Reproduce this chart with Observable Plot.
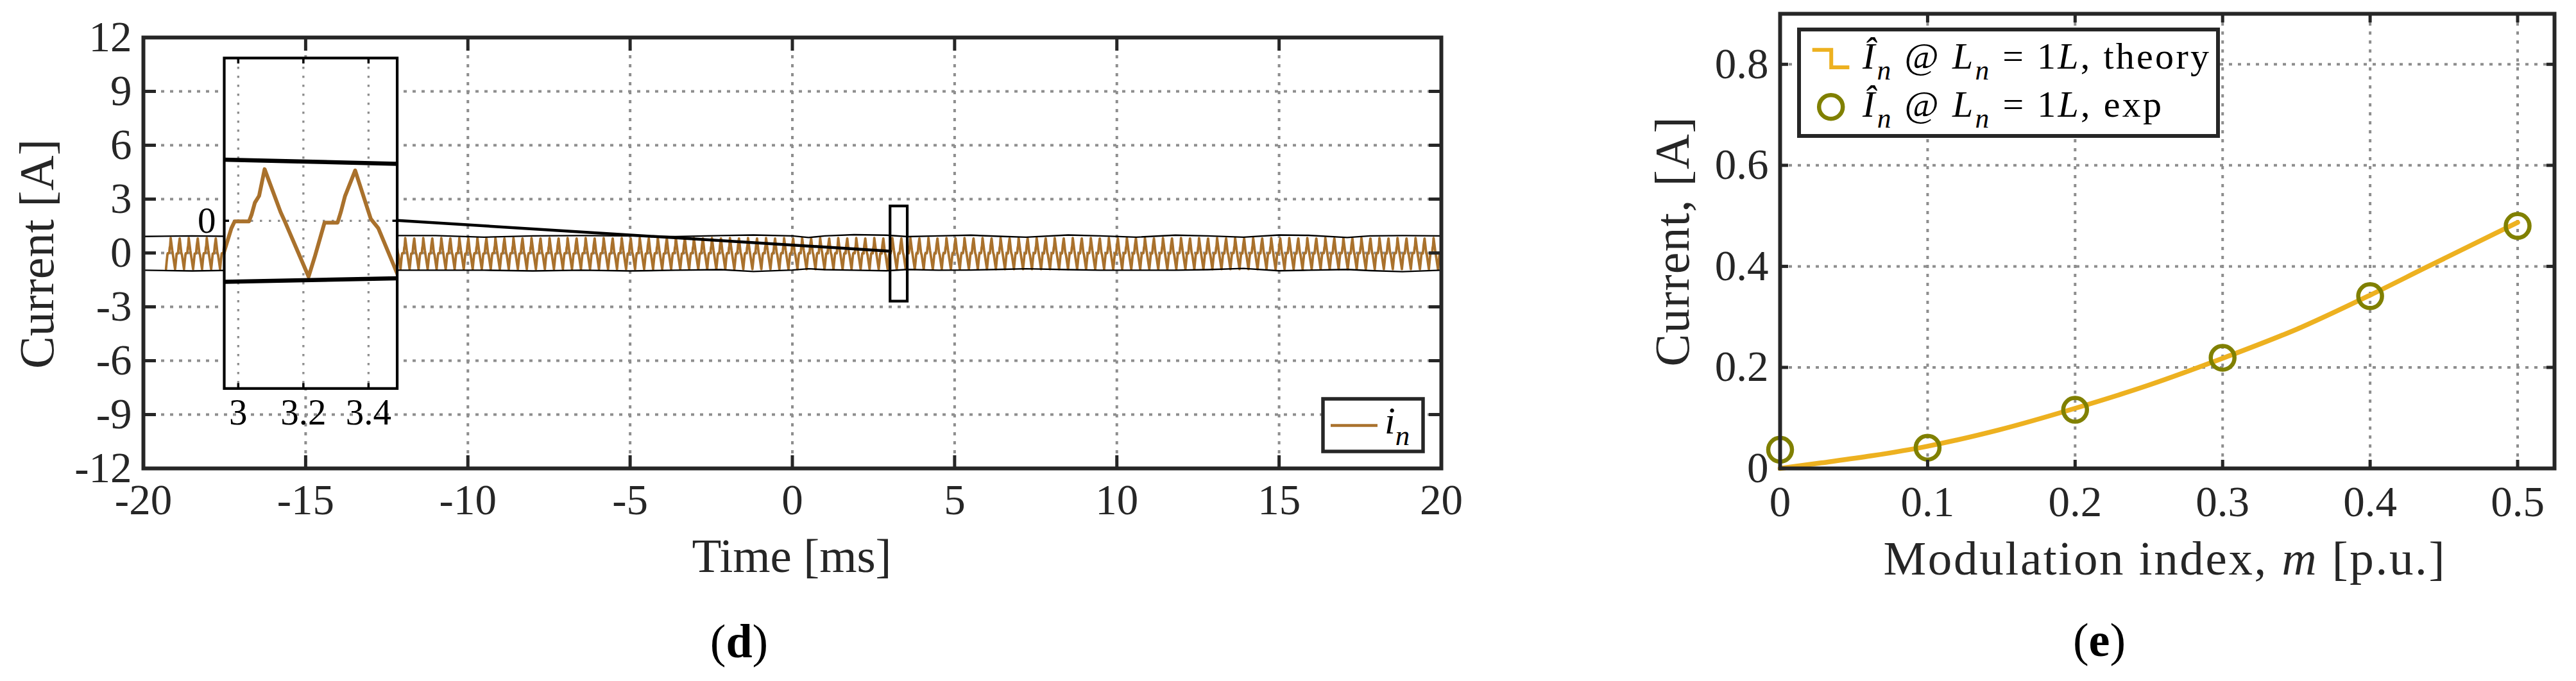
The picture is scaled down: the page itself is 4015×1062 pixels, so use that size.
<!DOCTYPE html>
<html><head><meta charset="utf-8">
<script src="https://cdn.jsdelivr.net/npm/d3@7"></script>
<script src="https://cdn.jsdelivr.net/npm/@observablehq/plot@0.6"></script>
<style>
body{margin:0;background:#fff;}
#wrap{position:relative;width:4015px;height:1062px;overflow:hidden;background:#fff;}
#wrap svg{position:absolute;overflow:visible;}
</style></head><body><div id="wrap"></div>
<script>
// ---------------- DATA ----------------
// one two-cycle stretch of the neutral current (t in ms, i in A)
const cycleT = [2.936, 2.956, 2.979, 2.989, 3.033, 3.041, 3.051, 3.064, 3.081, 3.130, 3.143,
                3.216, 3.236, 3.265, 3.305, 3.315, 3.328, 3.359, 3.407, 3.430];
const cycleV = [-0.90, -0.51, -0.12, -0.01, -0.01, 0.10, 0.29, 0.40, 0.83, 0.14, -0.01,
                -0.90, -0.56, -0.03, -0.03, 0.14, 0.40, 0.81, 0.03, -0.12];
const cyclePeriod = 0.556; // ms, the stretch repeats at this period (read from peak spacing)

// thin black envelope lines around the current
const envT = [-20, -18.5, -17, -15.5, -14, -12.5, -11, -9.5, -8, -6.5, -5, -3.6, -2.2, -1.2, 0, 0.5, 1.0, 1.9,
              2.9, 3.55, 4.5, 5.5, 6.5, 7.2, 8.5, 9.5, 10.6, 11.8, 12.8, 13.9, 15.0, 15.9, 17.1, 17.8, 18.8, 20];
const envUpper = [0.92, 0.95, 0.92, 0.95, 0.95, 0.97, 0.97, 0.88, 0.95, 0.97, 0.95, 0.91, 0.97, 1.0, 0.95, 0.86, 0.95, 1.02,
                  0.99, 0.91, 0.95, 0.99, 0.92, 0.88, 1.0, 0.95, 0.88, 0.99, 0.95, 0.88, 1.0, 0.98, 0.86, 0.95, 0.97, 0.95];
const envLower = [-0.96, -1.0, -0.96, -0.96, -0.96, -0.96, -0.96, -0.96, -1.0, -0.96, -1.0, -0.96, -0.93, -1.03, -0.95, -0.88, -0.93, -0.96,
                  -0.99, -0.92, -0.96, -0.95, -0.91, -0.88, -0.93, -0.96, -0.96, -0.96, -0.93, -0.86, -0.99, -0.96, -0.92, -0.98, -1.04, -0.96];

const timeTicks = [-20, -15, -10, -5, 0, 5, 10, 15, 20];
const currentTicks = [-12, -9, -6, -3, 0, 3, 6, 9, 12];
const timeDomain = [-20, 20];
const currentDomain = [-12, 12];

// zoom window (in the main axes) and the inset
const zoomRect = {t0: 3.02, t1: 3.55, v0: -2.7, v1: 2.6};
const insetDomainT = [2.957, 3.488];
const insetDomainV = [-2.7, 2.62];
const insetTicksT = [3, 3.2, 3.4];
const insetTicksV = [0];
const insetPlace = {t0: -17.51, t1: -12.18, v0: -7.53, v1: 10.875}; // where the inset sits, in main-axes units
const connectorEndV = 0.1;

// right panel
const theoryM = [0, 0.028, 0.062, 0.1, 0.148, 0.2, 0.25, 0.3, 0.353, 0.4, 0.438, 0.5];
const theoryI = [0.0, 0.011, 0.025, 0.044, 0.076, 0.119, 0.165, 0.218, 0.279, 0.343, 0.398, 0.487];
const expM = [0, 0.1, 0.2, 0.3, 0.4, 0.5];
const expI = [0.037, 0.041, 0.116, 0.219, 0.341, 0.480];
const mTicks = [0, 0.1, 0.2, 0.3, 0.4, 0.5];
const iTicks = [0, 0.2, 0.4, 0.6, 0.8];
const mDomain = [0, 0.525];
const iDomain = [0, 0.9];

// ---------------- STYLE ----------------
const FONT = "'Liberation Serif','Times New Roman',serif";
const AX = "#262626";
const GRID = "#8e8e8e";
const BROWN = "#A9712C";
const YEL = "#EDB120";
const OLIVE = "#808000";
const TICKFONT = 67;

// ---------------- build series ----------------
const signal = [];
for (let k = -40; k <= 32; k++) {
  const off = k * cyclePeriod;
  for (let i = 0; i < cycleT.length; i++) {
    const t = cycleT[i] + off;
    if (t >= -20.6 && t <= 20.6) signal.push({t, v: cycleV[i]});
  }
}
const env = envT.map((t, i) => ({t, up: envUpper[i], lo: envLower[i]}));
const theory = theoryM.map((m, i) => ({m, i: theoryI[i]}));
const exper = expM.map((m, i) => ({m, i: expI[i]}));

const insetZeroMain = insetPlace.v0 + (0 - insetDomainV[0]) / (insetDomainV[1] - insetDomainV[0]) * (insetPlace.v1 - insetPlace.v0);
const connector = [{t: insetPlace.t1, v: insetZeroMain}, {t: zoomRect.t0, v: connectorEndV}];

const wrap = document.getElementById("wrap");
const fmt = d => String(d);

function gridStyle(w, dash) { return {stroke: GRID, strokeOpacity: 1, strokeWidth: w, strokeDasharray: dash}; }
function inTicks(xt, yt, len, color, w) {
  const o = {tickSize: -len, tickFormat: () => "", stroke: color, strokeWidth: w, label: null};
  return [
    Plot.axisX(xt, {anchor: "bottom", ...o}),
    Plot.axisX(xt, {anchor: "top", ...o}),
    Plot.axisY(yt, {anchor: "left", ...o}),
    Plot.axisY(yt, {anchor: "right", ...o})
  ];
}

function rich(svg, {x, y, parts, size, anchor = "middle", rotate = 0, textLength, fill = AX}) {
  const t = d3.select(svg).append("text")
    .attr("transform", `translate(${x},${y}) rotate(${rotate})`)
    .attr("text-anchor", anchor).attr("font-family", FONT)
    .attr("font-size", size).attr("fill", fill);
  if (textLength) t.attr("textLength", textLength).attr("lengthAdjust", "spacing");
  let shift = 0;
  for (const p of parts) {
    const [s, o] = typeof p === "string" ? [p, {}] : p;
    const ts = t.append("tspan").text(s);
    if (o.i) ts.attr("font-style", "italic");
    if (o.b) ts.attr("font-weight", "bold");
    const target = o.sub ? size * 0.3 : 0;
    if (target !== shift) { ts.attr("dy", target - shift); shift = target; }
    if (o.sub) ts.attr("font-size", size * 0.75);
  }
  return t;
}

// ---------------- LEFT PANEL ----------------
const left = Plot.plot({
  width: 2300, height: 1062,
  marginLeft: 223, marginRight: 54, marginTop: 58, marginBottom: 332,
  x: {domain: timeDomain}, y: {domain: currentDomain},
  style: {fontFamily: FONT, background: "transparent", overflow: "visible"},
  marks: [
    Plot.gridX(timeTicks, gridStyle(4, "5,9")),
    Plot.gridY(currentTicks, gridStyle(4, "5,9")),
    Plot.line(signal, {x: "t", y: "v", stroke: BROWN, strokeWidth: 3.8, clip: true}),
    Plot.line(env, {x: "t", y: "up", stroke: "black", strokeWidth: 2.4}),
    Plot.line(env, {x: "t", y: "lo", stroke: "black", strokeWidth: 2.4}),
    Plot.rect([zoomRect], {x1: "t0", x2: "t1", y1: "v0", y2: "v1", fill: "none", stroke: "black", strokeWidth: 4.2}),
    Plot.line(connector, {x: "t", y: "v", stroke: "black", strokeWidth: 4.5}),
    Plot.frame({stroke: AX, strokeWidth: 6}),
    ...inTicks(timeTicks, currentTicks, 20, AX, 5),
    Plot.axisX(timeTicks, {anchor: "bottom", tickSize: 0, tickPadding: 24, tickFormat: fmt, fontSize: TICKFONT, color: AX, label: null}),
    Plot.axisY(currentTicks, {anchor: "left", tickSize: 0, tickPadding: 18, tickFormat: fmt, fontSize: TICKFONT, color: AX, label: null})
  ]
});
left.style.left = "0px"; left.style.top = "0px";
wrap.appendChild(left);

// axis labels, legend, caption (left)
rich(left, {x: 83, y: 396, rotate: -90, size: 76, textLength: 358, parts: ["Current [A]"]});
rich(left, {x: 1234, y: 892, size: 75, textLength: 311, parts: ["Time [ms]"]});
rich(left, {x: 1152, y: 1025, size: 74, fill: "#000", parts: ["(", ["d", {b: true}], ")"]});
{
  const g = d3.select(left).append("g");
  g.append("rect").attr("x", 2062).attr("y", 622).attr("width", 156).attr("height", 82)
    .attr("fill", "white").attr("stroke", AX).attr("stroke-width", 5.5);
  g.append("line").attr("x1", 2074).attr("x2", 2147).attr("y1", 663.5).attr("y2", 663.5)
    .attr("stroke", BROWN).attr("stroke-width", 4.3);
  rich(left, {x: 2158, y: 676, size: 60, anchor: "start", fill: "#000", parts: [["i", {i: true}], ["n", {i: true, sub: true}]]});
}

// ---------------- INSET ----------------
const xs = left.scale("x"), ys = left.scale("y");
const ix0 = xs.apply(insetPlace.t0), ix1 = xs.apply(insetPlace.t1);
const iy0 = ys.apply(insetPlace.v1), iy1 = ys.apply(insetPlace.v0);
const mL = 80, mR = 10, mT = 10, mB = 90;
const inset = Plot.plot({
  width: ix1 - ix0 + mL + mR, height: iy1 - iy0 + mT + mB,
  marginLeft: mL, marginRight: mR, marginTop: mT, marginBottom: mB,
  x: {domain: insetDomainT}, y: {domain: insetDomainV},
  style: {fontFamily: FONT, background: "transparent", overflow: "visible"},
  marks: [
    Plot.frame({fill: "white", stroke: null}),
    Plot.gridX(insetTicksT, gridStyle(3.3, "3.5,10.5")),
    Plot.gridY(insetTicksV, gridStyle(3.3, "3.5,10.5")),
    Plot.line(signal.filter(d => d.t > 2.5 && d.t < 4), {x: "t", y: "v", stroke: BROWN, strokeWidth: 6, clip: true}),
    Plot.line(env.filter(d => d.t > 1.5 && d.t < 5), {x: "t", y: "up", stroke: "black", strokeWidth: 6.5, clip: true}),
    Plot.line(env.filter(d => d.t > 1.5 && d.t < 5), {x: "t", y: "lo", stroke: "black", strokeWidth: 6.5, clip: true}),
    Plot.frame({stroke: "black", strokeWidth: 4.2}),
    ...inTicks(insetTicksT, insetTicksV, 8, "black", 3.5),
    Plot.axisX(insetTicksT, {anchor: "bottom", tickSize: 0, tickPadding: 16, tickFormat: fmt, fontSize: 57, color: "#000", label: null}),
    Plot.axisY(insetTicksV, {anchor: "left", tickSize: 0, tickPadding: 13, tickFormat: fmt, fontSize: 57, color: "#000", label: null})
  ]
});
inset.style.left = (ix0 - mL) + "px"; inset.style.top = (iy0 - mT) + "px";
wrap.appendChild(inset);

// ---------------- RIGHT PANEL ----------------
const R0 = 2300;
const right = Plot.plot({
  width: 1715, height: 1062,
  marginLeft: 474, marginRight: 34, marginTop: 21, marginBottom: 332,
  x: {domain: mDomain}, y: {domain: iDomain},
  style: {fontFamily: FONT, background: "transparent", overflow: "visible"},
  marks: [
    Plot.gridX(mTicks.slice(1), gridStyle(4, "5,9")),
    Plot.gridY(iTicks.slice(1), gridStyle(4, "5,9")),
    Plot.line(theory, {x: "m", y: "i", stroke: YEL, strokeWidth: 7.5, curve: "monotone-x"}),
    Plot.dot(exper, {x: "m", y: "i", r: 18.5, stroke: OLIVE, strokeWidth: 6.5, fill: "none"}),
    Plot.frame({stroke: AX, strokeWidth: 6}),
    ...inTicks(mTicks, iTicks, 13, AX, 5),
    Plot.axisX(mTicks, {anchor: "bottom", tickSize: 0, tickPadding: 27, tickFormat: fmt, fontSize: TICKFONT, color: AX, label: null}),
    Plot.axisY(iTicks, {anchor: "left", tickSize: 0, tickPadding: 18, tickFormat: fmt, fontSize: TICKFONT, color: AX, label: null})
  ]
});
right.style.left = R0 + "px"; right.style.top = "0px";
wrap.appendChild(right);

rich(right, {x: 2632 - R0, y: 377, rotate: -90, size: 76, textLength: 389, parts: ["Current, [A]"]});
rich(right, {x: 3373 - R0, y: 896, size: 75, textLength: 875,
  parts: ["Modulation index, ", ["m", {i: true}], " [p.u.]"]});
rich(right, {x: 3272 - R0, y: 1023, size: 74, fill: "#000", parts: ["(", ["e", {b: true}], ")"]});
{
  const g = d3.select(right).append("g");
  g.append("rect").attr("x", 2804 - R0).attr("y", 46).attr("width", 653).attr("height", 166)
    .attr("fill", "white").attr("stroke", AX).attr("stroke-width", 6);
  g.append("path").attr("d", `M${2824.7 - R0},77.7H${2854.2 - R0}V105H${2882.4 - R0}`)
    .attr("fill", "none").attr("stroke", YEL).attr("stroke-width", 6);
  g.append("circle").attr("cx", 2853.7 - R0).attr("cy", 166.7).attr("r", 18.5)
    .attr("fill", "none").attr("stroke", OLIVE).attr("stroke-width", 6.5);
  const entry = tail => [["Î", {i: true}], ["n", {i: true, sub: true}], " @ ", ["L", {i: true}], ["n", {i: true, sub: true}], " = 1", ["L", {i: true}], tail];
  rich(right, {x: 2903 - R0, y: 107, size: 58, anchor: "start", fill: "#000", textLength: 540, parts: entry(", theory")});
  rich(right, {x: 2903 - R0, y: 182, size: 58, anchor: "start", fill: "#000", textLength: 466, parts: entry(", exp")});
}
</script></body></html>
